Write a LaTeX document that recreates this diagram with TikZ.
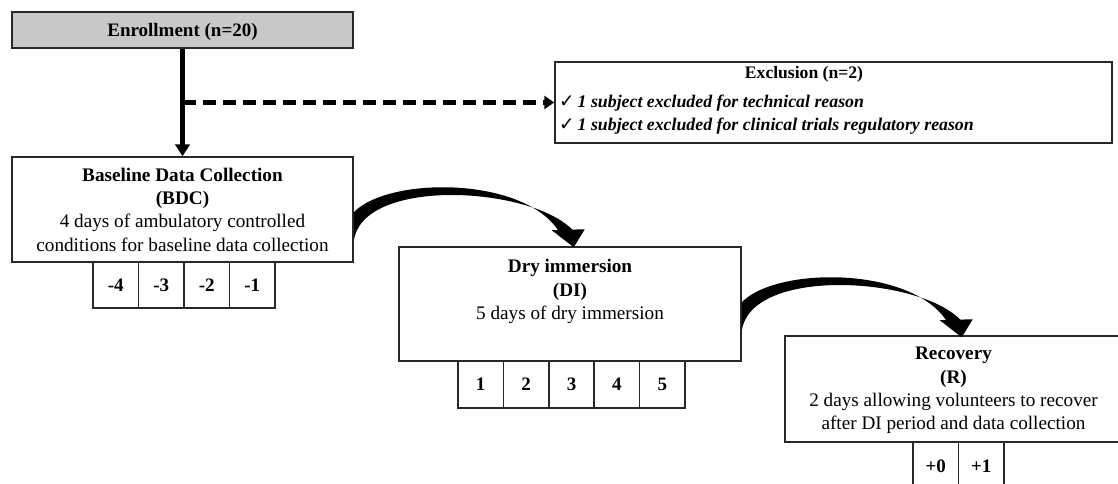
\documentclass[tikz,border=0pt]{standalone}
\usepackage{fontspec}
\setmainfont{Liberation Serif}
\newfontfamily\symfont{DejaVu Sans}
\usetikzlibrary{arrows.meta}
\definecolor{enrollgray}{RGB}{200,200,200}
\definecolor{boxline}{RGB}{40,40,40}
\tikzset{
  box/.style={draw=boxline, line width=1.5pt, inner sep=0pt, rectangle},
  txt/.style={font=\fontsize{19.2}{23.2}\selectfont, align=center, inner sep=0pt},
  cellbox/.style={draw=boxline, line width=1.5pt, rectangle, inner sep=0pt,
    minimum width=45.5pt, minimum height=46pt, font=\fontsize{19}{20}\selectfont\bfseries},
  exltxt/.style={font=\fontsize{17.8}{23}\selectfont, inner sep=0pt},
  solidarrow/.style={line width=5pt, -{Triangle[length=12pt,width=14.5pt]}},
  dasharrow/.style={line width=5pt, dash pattern=on 13pt off 7pt, -{Triangle[length=10pt,width=13pt]}},
  bendfill/.style={fill=black}
}
\newcommand\drawbend{%
  \fill[bendfill] (0,56) .. controls (35,20) and (170,20) .. (205,75) -- (220,75)
    .. controls (180,30) and (8,20) .. (0,85) -- cycle;
  \fill[bendfill] (198,74) -- (231,73) -- (220,91) -- cycle;
}
\newcommand\chk{{\symfont\fontsize{18.5}{18.5}\selectfont ✓}\hspace{3pt}}
\begin{document}
\begin{tikzpicture}[x=1pt,y=-1pt]
\useasboundingbox (0,0) rectangle (1118,484);
\clip (0,0) rectangle (1118,484);
\fill[white] (0,0) rectangle (1118,484);

% boxes
\node[box, fill=enrollgray, minimum width=341pt, minimum height=36pt] (enroll) at (182.5,30) {};
\node[txt, font=\fontsize{19}{23.2}\selectfont\bfseries, anchor=base] (enrollT) at (182.5,37) {Enrollment (n=20)};

\node[box, minimum width=557pt, minimum height=81pt] (excl) at (833.5,102.5) {};
\node[exltxt, font=\fontsize{17.6}{23}\selectfont\bfseries, anchor=base] (exclH) at (804,79) {Exclusion (n=2)};
\node[exltxt, anchor=base west] (exclA) at (559,107) {\chk\textbf{\textit{1 subject excluded for technical reason}}};
\node[exltxt, anchor=base west] (exclB) at (559,130) {\chk\textbf{\textit{1 subject excluded for clinical trials regulatory reason}}};

\node[box, minimum width=341pt, minimum height=105pt] (bdc) at (182.5,209.5) {};
\node[txt, anchor=north] (bdcT) at (182.5,168) {\textbf{Baseline Data Collection}\\\textbf{(BDC)}\\4 days of ambulatory controlled\\conditions for baseline data collection};

\node[box, minimum width=342pt, minimum height=114pt] (di) at (570,304) {};
\node[txt, anchor=north] (diT) at (570,259.3) {\textbf{Dry immersion}\\\textbf{(DI)}\\5 days of dry immersion};

\node[box, minimum width=337pt, minimum height=106pt] (rec) at (953.5,389) {};
\node[txt, anchor=north] (recT) at (953.5,347.2) {\textbf{Recovery}\\\textbf{(R)}\\2 days allowing volunteers to recover\\after DI period and data collection};

% day cells
\node[cellbox] (b1) at (115.75,285) {-4};
\node[cellbox] (b2) at (161.25,285) {-3};
\node[cellbox] (b3) at (206.75,285) {-2};
\node[cellbox] (b4) at (252.25,285) {-1};

\node[cellbox, minimum width=45.4pt, minimum height=47pt] (d1) at (480.7,384.5) {1};
\node[cellbox, minimum width=45.4pt, minimum height=47pt] (d2) at (526.1,384.5) {2};
\node[cellbox, minimum width=45.4pt, minimum height=47pt] (d3) at (571.5,384.5) {3};
\node[cellbox, minimum width=45.4pt, minimum height=47pt] (d4) at (616.9,384.5) {4};
\node[cellbox, minimum width=45.4pt, minimum height=47pt] (d5) at (662.3,384.5) {5};

\node[cellbox, minimum height=48pt] (r1) at (935.75,466) {+0};
\node[cellbox, minimum height=48pt] (r2) at (981.25,466) {+1};

% connectors
\draw[solidarrow] (enroll.south) -- (bdc.north);
\coordinate (join) at (enroll.south |- excl.west);
\draw[dasharrow] (join) -- (excl.west);

\begin{scope}[shift={(bdc.north east)}]
\drawbend
\end{scope}
\begin{scope}[shift={(di.north east)}]
\drawbend
\end{scope}
\end{tikzpicture}
\end{document}
